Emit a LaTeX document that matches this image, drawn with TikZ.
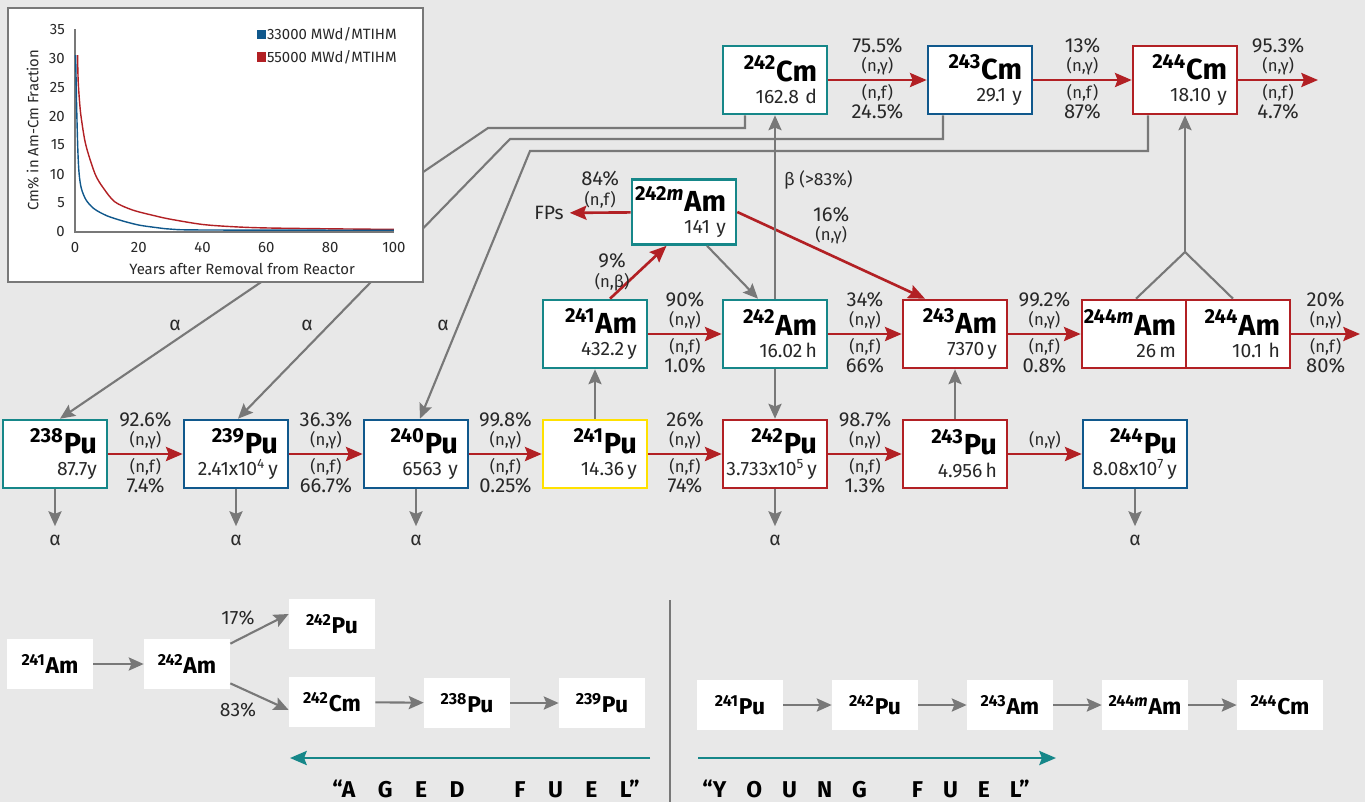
\documentclass[tikz,border=0pt]{standalone}
\usepackage{fontspec}
\setmainfont{Fira Sans}
\usepackage{xcolor}
\usepackage{tikz}
\usetikzlibrary{arrows.meta,positioning}

\definecolor{bggray}{RGB}{232,232,232}
\definecolor{nteal}{RGB}{22,135,137}
\definecolor{nblue}{RGB}{16,88,140}
\definecolor{nred}{RGB}{178,32,36}
\definecolor{nyellow}{RGB}{255,225,0}
\definecolor{lgray}{RGB}{120,120,120}
\definecolor{txt}{RGB}{40,40,40}

\newcommand{\iso}[2]{\textsuperscript{#1}#2}
\newcommand{\nuc}[3]{\makebox[1.68cm][r]{\color{black}\fontsize{16.5}{16}\selectfont\bfseries\iso{#1}{#2}}\\\makebox[1.68cm][r]{#3}}
\newcommand{\ngam}{{\fontsize{9.5}{9}\selectfont(n,γ)}}
\newcommand{\nfis}{{\fontsize{9.5}{9}\selectfont(n,f)}}

\begin{document}
\begin{tikzpicture}[x=0.02cm, y=-0.02cm,
    nuclide/.style={rectangle, fill=white, line width=1.5pt, minimum width=2.08cm, minimum height=1.36cm, text width=1.68cm, inner xsep=0.2cm, inner ysep=0pt, align=left, font=\fontsize{11}{13}\selectfont, text=txt},
    tealbox/.style={nuclide, draw=nteal},
    bluebox/.style={nuclide, draw=nblue},
    redbox/.style={nuclide, draw=nred},
    yellowbox/.style={nuclide, draw=nyellow},
    simple/.style={rectangle, fill=white, minimum width=1.72cm, minimum height=1cm, font=\fontsize{13}{13}\selectfont\bfseries},
    uplbl/.style={above=2pt, align=center, inner sep=0pt, font=\fontsize{11.5}{11}\selectfont, text=txt},
    downlbl/.style={below=2pt, align=center, inner sep=0pt, font=\fontsize{11.5}{11}\selectfont, text=txt},
    note/.style={font=\fontsize{11}{11}\selectfont, text=txt},
    capture/.style={->, >={Stealth[length=9.5pt, width=8pt, inset=1.5pt]}, draw=nred, line width=1.5pt},
    decay/.style={->, >={Stealth[length=8.5pt, width=7.5pt, inset=1.5pt]}, draw=lgray, line width=1.2pt},
    link/.style={draw=lgray, line width=1.2pt},
    trend/.style={->, >={Stealth[length=9.5pt, width=8pt, inset=1.5pt]}, draw=nteal, line width=1.5pt}
]

% Background
\path[use as bounding box, fill=bggray] (0,0) rectangle (1365,802);

% Curium row
\node[tealbox] (cm242) at (775,80) {\nuc{242}{Cm}{162.8 d}};
\node[bluebox] (cm243) at (980,80) {\nuc{243}{Cm}{29.1 y}};
\node[redbox] (cm244) at (1185,80) {\nuc{244}{Cm}{18.10 y}};

% Americium row
\node[tealbox, minimum height=1.3cm] (am242m) at (684,212) {\nuc{242\textit{m}}{Am}{141 y}};
\node[tealbox] (am241) at (595,334) {\nuc{241}{Am}{432.2\,y}};
\node[tealbox] (am242) at (775,334) {\nuc{242}{Am}{16.02\,h}};
\node[redbox] (am243) at (955,334) {\nuc{243}{Am}{7370\,y}};
\node[redbox] (am244m) at (1134,334) {\nuc{244\textit{m}}{Am}{26\,m}};
\node[redbox] (am244) at (1238,334) {\nuc{244}{Am}{10.1 h}};

% Plutonium row
\node[tealbox] (pu238) at (55,454) {\nuc{238}{Pu}{87.7y}};
\node[bluebox] (pu239) at (236,454) {\nuc{239}{Pu}{2.41x10\textsuperscript{4}\,y}};
\node[bluebox] (pu240) at (416,454) {\nuc{240}{Pu}{6563 y}};
\node[yellowbox] (pu241) at (595,454) {\nuc{241}{Pu}{14.36\,y}};
\node[redbox] (pu242) at (775,454) {\nuc{242}{Pu}{3.733x10\textsuperscript{5}\,y}};
\node[redbox] (pu243) at (955,454) {\nuc{243}{Pu}{4.956\,h}};
\node[bluebox] (pu244) at (1135,454) {\nuc{244}{Pu}{8.08x10\textsuperscript{7}\,y}};

% Alpha decays of curium (behind the inset)
\coordinate (k1) at (488,128);
\coordinate (k2) at (510,139);
\coordinate (k3) at (530,151);
\draw[decay] ([xshift=-0.6cm]cm242.south) |- (k1) -- ([xshift=0.1cm]pu238.north);
\draw[decay] ([xshift=-0.74cm]cm243.south) |- (k2) -- ([xshift=0.04cm]pu239.north);
\draw[decay] ([xshift=-0.74cm]cm244.south) |- (k3) -- ([xshift=0.08cm]pu240.north);
\node[note] (al1) at (175,325) {α};
\node[note] (al2) at (307,325) {α};
\node[note] (al3) at (443,325) {α};

% Inset: Cm fraction vs. cooling time
\node[draw=lgray, line width=1pt, fill=white, minimum width=8.3cm, minimum height=5.48cm, inner sep=0pt] (inset) at (215.5,145) {};
\begin{scope}[shift={(75,232)}, x=0.0638cm, y=0.116cm, font=\fontsize{8.5}{9}\selectfont, text=txt]
  \draw[lgray, line width=0.8pt] (0,35) -- (0,0) -- (100,0);
  \foreach \v in {0,5,...,35}
    \node[anchor=east, inner sep=0pt] (yt\v) at (-3.1,\v) {\v};
  \foreach \v in {0,20,...,100}
    \node (xt\v) at (\v,-2.6) {\v};
  \node (xtitle) at (52.4,-6.3) {Years after Removal from Reactor};
  \node[rotate=90] (ytitle) at (-13.2,17.6) {Cm\% in Am-Cm Fraction};
  % legend
  \fill[nblue] (57.2,33.3) rectangle (60,34.9);
  \node[anchor=west, inner sep=0pt] (leg1) at (60.1,34.1) {33000 MWd/MTIHM};
  \fill[nred] (57.2,29.4) rectangle (60,31);
  \node[anchor=west, inner sep=0pt] (leg2) at (60.1,30.2) {55000 MWd/MTIHM};
  % curves
  \draw[nred, line width=0.8pt] plot[smooth, tension=0.5] coordinates {(0.8,30.5) (1,26) (1.5,22) (2,19.5) (3.4,15) (6.3,10) (9,7.5) (12.5,5.2) (18,3.8) (25,2.8) (30,2.2) (40,1.3) (50,0.9) (60,0.7) (80,0.55) (100,0.45)};
  \draw[nblue, line width=0.8pt] plot[smooth, tension=0.5] coordinates {(0.2,30.5) (0.5,22) (0.9,14) (1.3,10) (2,7.5) (3.5,5.5) (6,4) (10,2.8) (15,1.9) (20,1.2) (25,0.8) (30,0.5) (40,0.35) (100,0.3)};
\end{scope}

% Neutron captures (red)
\coordinate (out1) at (1318,80);
\coordinate (out2) at (1360,334);
\node[note] (fps) at (549,213) {FPs};
\draw[capture] (cm242) -- node[uplbl] (c1a) {75.5\%\\\ngam} node[downlbl] (c1b) {\nfis\\24.5\%} (cm243);
\draw[capture] (cm243) -- node[uplbl] (c2a) {13\%\\\ngam} node[downlbl] (c2b) {\nfis\\87\%} (cm244);
\draw[capture] (cm244) -- node[uplbl] (c3a) {95.3\%\\\ngam} node[downlbl] (c3b) {\nfis\\4.7\%} (out1);
\draw[capture] (am242m) -- node[uplbl] (m1a) {84\%\\\nfis} (fps);
\draw[capture] (am242m.east) -- node[uplbl, above=0.2cm] (m2a) {16\%\\\ngam} ([xshift=-0.6cm]am243.north);
\draw[capture] ([xshift=0.3cm]am241.north) -- node[uplbl, left=0.15cm] (m3a) {9\%\\{\fontsize{9.5}{9}\selectfont(n,β)}} ([xshift=-0.35cm]am242m.south);
\draw[capture] (am241) -- node[uplbl] (a1a) {90\%\\\ngam} node[downlbl] (a1b) {\nfis\\1.0\%} (am242);
\draw[capture] (am242) -- node[uplbl] (a2a) {34\%\\\ngam} node[downlbl] (a2b) {\nfis\\66\%} (am243);
\draw[capture] (am243) -- node[uplbl] (a3a) {99.2\%\\\ngam} node[downlbl] (a3b) {\nfis\\0.8\%} (am244m);
\draw[capture] (am244) -- node[uplbl] (a4a) {20\%\\\ngam} node[downlbl] (a4b) {\nfis\\80\%} (out2);
\draw[capture] (pu238) -- node[uplbl] (p1a) {92.6\%\\\ngam} node[downlbl] (p1b) {\nfis\\7.4\%} (pu239);
\draw[capture] (pu239) -- node[uplbl] (p2a) {36.3\%\\\ngam} node[downlbl] (p2b) {\nfis\\66.7\%} (pu240);
\draw[capture] (pu240) -- node[uplbl] (p3a) {99.8\%\\\ngam} node[downlbl] (p3b) {\nfis\\0.25\%} (pu241);
\draw[capture] (pu241) -- node[uplbl] (p4a) {26\%\\\ngam} node[downlbl] (p4b) {\nfis\\74\%} (pu242);
\draw[capture] (pu242) -- node[uplbl] (p5a) {98.7\%\\\ngam} node[downlbl] (p5b) {\nfis\\1.3\%} (pu243);
\draw[capture] (pu243) -- node[uplbl] (p6a) {\ngam} (pu244);

% Decays (gray)
\draw[decay] (am242) -- (cm242);
\node[note, anchor=west, font=\fontsize{10}{10}\selectfont] (beta) at (778,180) {β (>83\%)};
\draw[decay] ([xshift=0.46cm]am242m.south) -- ([xshift=-0.34cm]am242.north);
\draw[decay] (pu241) -- (am241);
\draw[decay] (pu243) -- (am243);
\draw[decay] (am242) -- (pu242);
\coordinate (join) at (1185,252);
\draw[link] ([xshift=0.04cm]am244m.north) -- (join) -- ([xshift=-0.1cm]am244.north);
\draw[decay] (join) -- (cm244);

% Alpha decays of plutonium
\foreach \n/\x in {238/55, 239/236, 240/416, 242/775, 244/1135} {
  \node[note, inner sep=0pt, outer sep=0.17cm] (a\n) at (\x,540) {α};
  \draw[decay] (pu\n) -- (a\n);
}

% Aged fuel chain
\node[simple] (b241am) at (50,664) {\iso{241}{Am}};
\node[simple] (b242am) at (187,664) {\iso{242}{Am}};
\node[simple] (b242pu) at (332,624) {\iso{242}{Pu}};
\node[simple] (b242cm) at (332,702) {\iso{242}{Cm}};
\node[simple] (b238pu) at (467,703) {\iso{238}{Pu}};
\node[simple] (b239pu) at (602,703) {\iso{239}{Pu}};
\draw[decay] (b241am) -- (b242am);
\draw[decay] ([yshift=-0.1cm]b242am.north east) -- ([yshift=0.2cm]b242pu.west);
\draw[decay] ([yshift=0.12cm]b242am.south east) -- ([yshift=-0.16cm]b242cm.west);
\node[note] (pc17) at (238,618) {17\%};
\node[note] (pc83) at (238,710) {83\%};
\draw[decay] (b242cm) -- (b238pu);
\draw[decay] (b238pu) -- (b239pu);

% Young fuel chain
\node[simple] (y241pu) at (740,705) {\iso{241}{Pu}};
\node[simple] (y242pu) at (875,705) {\iso{242}{Pu}};
\node[simple] (y243am) at (1010,705) {\iso{243}{Am}};
\node[simple] (y244am) at (1145,705) {\iso{244\textit{m}}{Am}};
\node[simple] (y244cm) at (1280,705) {\iso{244}{Cm}};
\draw[decay] (y241pu) -- (y242pu);
\draw[decay] (y242pu) -- (y243am);
\draw[decay] (y243am) -- (y244am);
\draw[decay] (y244am) -- (y244cm);

% Divider and trend arrows
\draw[link] (670,600) -- (670,802);
\coordinate (ag1) at (650,758);
\coordinate (ag2) at (290,758);
\coordinate (yg1) at (698,758);
\coordinate (yg2) at (1056,758);
\draw[trend] (ag1) -- (ag2);
\draw[trend] (yg1) -- (yg2);
\node[font=\fontsize{13}{13}\selectfont\bfseries] (aged) at (486,789) {“A\hspace{0.45cm}G\hspace{0.45cm}E\hspace{0.45cm}D\hspace{1cm}F\hspace{0.45cm}U\hspace{0.45cm}E\hspace{0.45cm}L”};
\node[font=\fontsize{13}{13}\selectfont\bfseries] (young) at (866,789) {“Y\hspace{0.4cm}O\hspace{0.4cm}U\hspace{0.4cm}N\hspace{0.4cm}G\hspace{0.9cm}F\hspace{0.4cm}U\hspace{0.4cm}E\hspace{0.4cm}L”};

\end{tikzpicture}
\end{document}
